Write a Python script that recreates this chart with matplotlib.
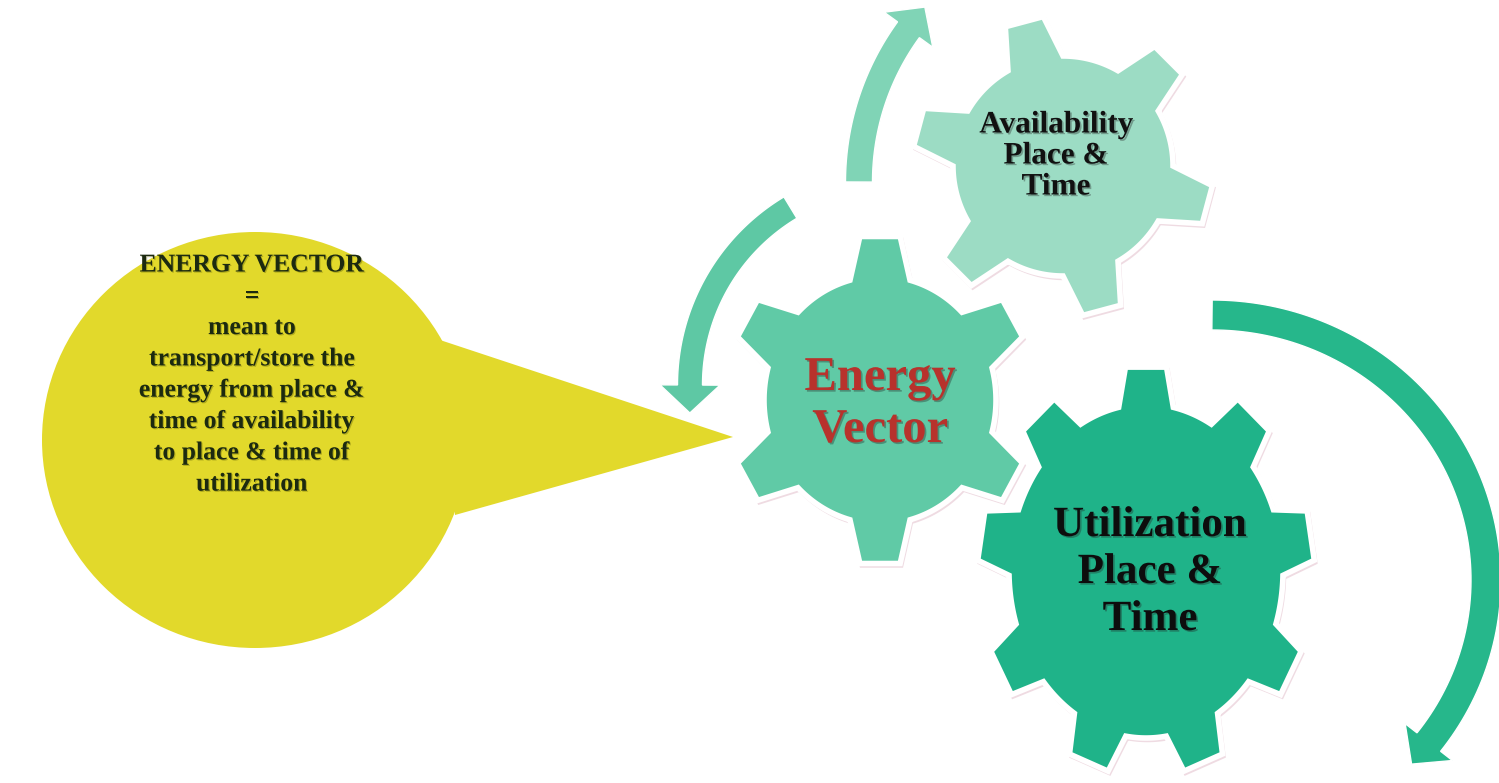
import numpy as np
import matplotlib.pyplot as plt
from matplotlib.patches import Polygon, Ellipse
import matplotlib.patheffects as pe

W, H = 1499, 783

# --- content ---
bubble_lines = ["ENERGY VECTOR", "=", "mean to", "transport/store the",
                "energy from place &", "time of availability",
                "to place & time of", "utilization"]
gear_labels = [["Availability", "Place &", "Time"],
               ["Energy", "Vector"],
               ["Utilization", "Place &", "Time"]]

# --- gear geometry (pixel coords, y down) ---
gear_cx = [1063, 880, 1146]
gear_cy = [166, 400, 571]
gear_rx = [110, 116, 137]
gear_ry = [110, 124, 167]
gear_ratio = [1.37, 1.33, 1.23]
gear_teeth = [6, 6, 9]
gear_start = [105, 30, 90]
gear_tip_half = [7.5, 7.5, 7]
gear_base_half = [15, 15, 11.5]
gear_colors = ["#9cdcc4", "#60caa6", "#1fb389"]
label_colors = ["#111111", "#b8322c", "#0d0d0d"]
label_sizes = [22.5, 35, 31]
label_gap = [31, 52, 47]
label_x = [1056, 880, 1150]
label_y = [156, 404, 573]

# --- arrows: centre, radii, start/end angle ---
arrow_cx = [1118, 897, 1212]
arrow_cy = [182, 385, 580]
arrow_rx = [259, 207, 274]
arrow_ry = [259, 207, 265]
arrow_t0 = [180, 239, -90]
arrow_t1 = [216, 180, 37.7]
arrow_w = [27, 25, 30]
arrow_colors = ["#80d4b6", "#5ec8a4", "#26b78b"]


def gear_outline(cx, cy, rx, ry, ratio, n, a0, tip_half, base_half):
    pts = []
    step = 360.0 / n
    for k in range(n):
        a = a0 + k * step
        pts += [(a - base_half, 1.0), (a - tip_half, ratio),
                (a + tip_half, ratio), (a + base_half, 1.0)]
        for ang in np.linspace(a + base_half, a + step - base_half, 20)[1:-1]:
            pts.append((ang, 1.0))
    xy = [(cx + rx * r * np.cos(np.radians(ang)), cy - ry * r * np.sin(np.radians(ang)))
          for ang, r in pts]
    return np.array(xy)


def arc_arrow(ax, cx, cy, rx, ry, t0, t1, width, color, head_w=60, head_len=28):
    t = np.radians(np.linspace(t0, t1, 100))
    x = cx + rx * np.cos(t)
    y = cy + ry * np.sin(t)
    dx = np.gradient(x)
    dy = np.gradient(y)
    n = np.hypot(dx, dy)
    dx, dy = dx / n, dy / n
    nx, ny = -dy, dx
    left = np.c_[x + nx * width / 2, y + ny * width / 2]
    right = np.c_[x - nx * width / 2, y - ny * width / 2]
    ex, ey = x[-1], y[-1]
    head = [(ex + nx[-1] * head_w / 2, ey + ny[-1] * head_w / 2),
            (ex + dx[-1] * head_len, ey + dy[-1] * head_len),
            (ex - nx[-1] * head_w / 2, ey - ny[-1] * head_w / 2)]
    pts = np.vstack([left, head, right[::-1]])
    ax.add_patch(Polygon(pts, closed=True, fc=color, ec="white", lw=1.0, zorder=2))


fig = plt.figure(figsize=(W / 100, H / 100), dpi=100)
ax = fig.add_axes([0, 0, 1, 1])
ax.set_xlim(0, W)
ax.set_ylim(H, 0)
ax.axis("off")

# speech bubble
ax.add_patch(Ellipse((255, 440), 426, 416, fc="#e2d92b", ec="none", zorder=1))
ax.add_patch(Polygon([(440, 340), (733, 437), (455, 515)], closed=True,
                     fc="#e2d92b", ec="none", zorder=1))
for i, line in enumerate(bubble_lines):
    ax.text(252, 265 + i * 31.3, line, ha="center", va="center", fontsize=18.5,
            fontweight="bold", family="Liberation Serif", color="#1c2a10", zorder=5,
            path_effects=[pe.withSimplePatchShadow(offset=(0.8, -0.8),
                                                   shadow_rgbFace="#555500", alpha=0.35)])

# arrows
for i in range(3):
    arc_arrow(ax, arrow_cx[i], arrow_cy[i], arrow_rx[i], arrow_ry[i],
              arrow_t0[i], arrow_t1[i], arrow_w[i], arrow_colors[i])

# gears, back to front: utilization, availability, energy vector
for i in [2, 0, 1]:
    pts = gear_outline(gear_cx[i], gear_cy[i], gear_rx[i], gear_ry[i], gear_ratio[i],
                       gear_teeth[i], gear_start[i], gear_tip_half[i], gear_base_half[i])
    ax.add_patch(Polygon(pts + [1.5, 2.5], closed=True, fc="none", ec="#efdbe2",
                         lw=2.5, zorder=3))
    ax.add_patch(Polygon(pts, closed=True, fc=gear_colors[i], ec="white",
                         lw=4, zorder=3))
    lines = gear_labels[i]
    n = len(lines)
    for j, line in enumerate(lines):
        y = label_y[i] + (j - (n - 1) / 2) * label_gap[i]
        ax.text(label_x[i], y, line, ha="center", va="center",
                fontsize=label_sizes[i], fontweight="bold", family="Liberation Serif",
                color=label_colors[i], zorder=6,
                path_effects=[pe.withSimplePatchShadow(offset=(1.2, -1.2),
                                                       shadow_rgbFace="#222222", alpha=0.35)])

fig.savefig("out.png", dpi=100, facecolor="white")
